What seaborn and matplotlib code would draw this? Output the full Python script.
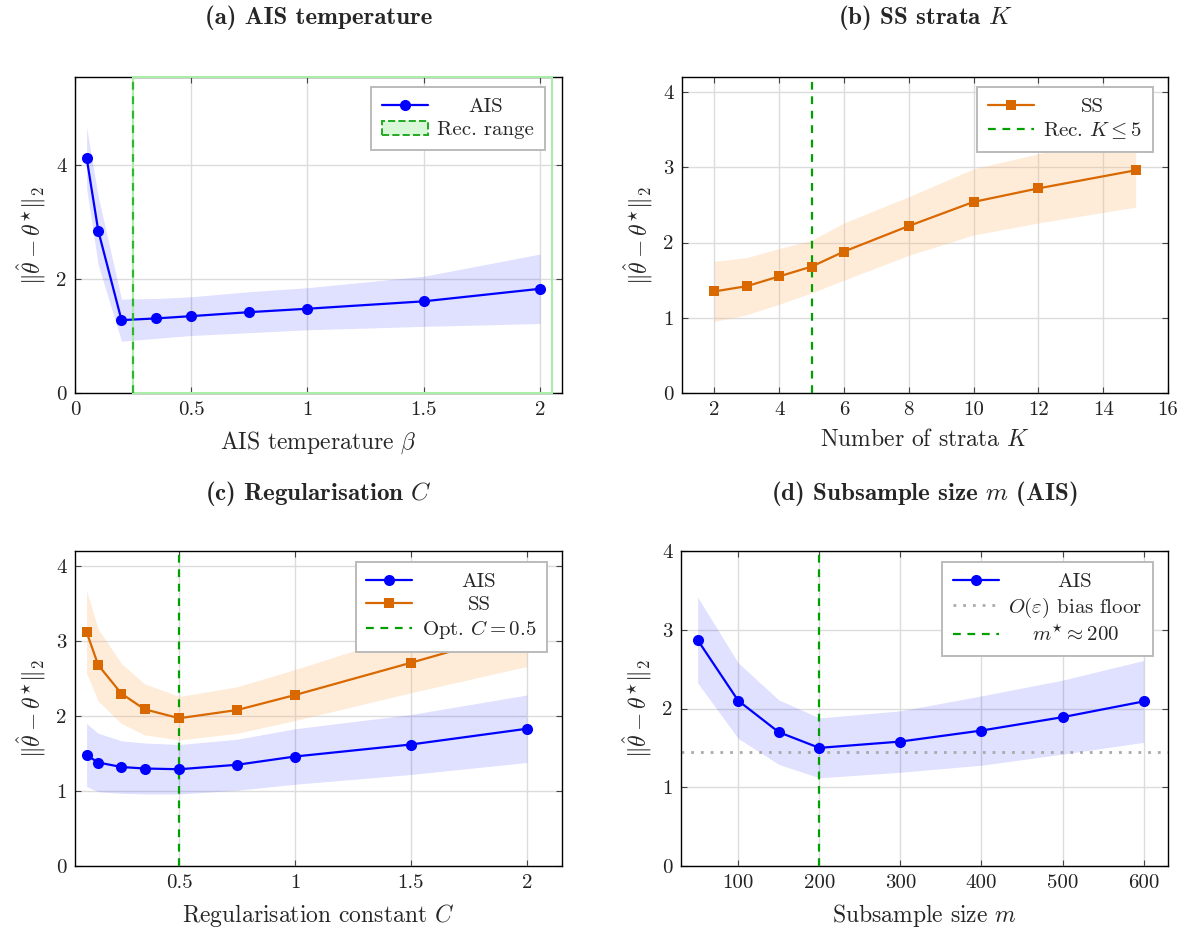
import numpy as np
import pandas as pd
import seaborn as sns
import matplotlib
matplotlib.use("Agg")
import matplotlib.pyplot as plt
from matplotlib.lines import Line2D
from matplotlib.patches import Patch, Rectangle
from matplotlib.ticker import FuncFormatter

# ---------------- data ----------------
beta = [0.05, 0.1, 0.2, 0.35, 0.5, 0.75, 1.0, 1.5, 2.0]
ais_beta = [4.13, 2.85, 1.28, 1.31, 1.35, 1.42, 1.48, 1.61, 1.83]
ais_beta_sd = [0.54, 0.60, 0.37, 0.35, 0.34, 0.36, 0.37, 0.44, 0.61]
rec_range = [0.25, 2.05]

strata = [2, 3, 4, 5, 6, 8, 10, 12, 15]
ss_strata = [1.35, 1.42, 1.55, 1.68, 1.88, 2.22, 2.54, 2.72, 2.96]
ss_strata_sd = [0.40, 0.38, 0.37, 0.35, 0.38, 0.39, 0.44, 0.46, 0.49]
rec_k = 5

reg_c = [0.1, 0.15, 0.25, 0.35, 0.5, 0.75, 1.0, 1.5, 2.0]
ais_c = [1.48, 1.38, 1.32, 1.30, 1.29, 1.35, 1.46, 1.62, 1.83]
ais_c_sd = [0.42, 0.39, 0.35, 0.34, 0.33, 0.34, 0.37, 0.40, 0.45]
ss_c = [3.12, 2.68, 2.30, 2.09, 1.97, 2.08, 2.28, 2.71, 3.15]
ss_c_sd = [0.55, 0.48, 0.40, 0.34, 0.29, 0.31, 0.34, 0.40, 0.49]
opt_c = 0.5

sub_m = [50, 100, 150, 200, 300, 400, 500, 600]
ais_m = [2.87, 2.10, 1.70, 1.50, 1.58, 1.72, 1.89, 2.09]
ais_m_sd = [0.545, 0.48, 0.41, 0.38, 0.39, 0.44, 0.47, 0.52]
bias_floor = 1.45
m_star = 200

titles = [r"(a) AIS temperature", r"(b) SS strata $K$",
          r"(c) Regularisation $C$", r"(d) Subsample size $m$ (AIS)"]
xlabels = [r"AIS temperature $\beta$", r"Number of strata $K$",
           r"Regularisation constant $C$", r"Subsample size $m$"]
ylabel = r"$\Vert\hat{\theta}-\theta^{\star}\Vert_2$"

# ---------------- style ----------------
sns.set_theme(style="whitegrid")
plt.rcParams["font.family"] = ["cmr10", "DejaVu Serif"]
plt.rcParams["mathtext.fontset"] = "cm"
plt.rcParams["axes.formatter.use_mathtext"] = True
plt.rcParams["axes.unicode_minus"] = False

BLUE = "#0000ff"
ORANGE = "#d96800"
GREEN = "#00a000"
LGREEN = "#a8eea8"
GRID = "#dcdcdc"

W, H = 1184, 927
fig = plt.figure(figsize=(W / 100, H / 100), dpi=100)
fig.patch.set_facecolor("white")

def add_ax(l, r, t, b):
    return fig.add_axes([l / W, 1 - b / H, (r - l) / W, (b - t) / H])

axA = add_ax(75, 562, 77, 393)
axB = add_ax(682, 1168, 77, 393)
axC = add_ax(75, 562, 551, 866)
axD = add_ax(681, 1168, 551, 866)

fmt = FuncFormatter(lambda v, p: "%g" % v)

def style(ax, xticks, yticks, xlim, ylim, xlabel):
    ax.set_facecolor("white")
    ax.set_xlim(*xlim)
    ax.set_ylim(*ylim)
    ax.set_xticks(xticks)
    ax.set_yticks(yticks)
    ax.xaxis.set_major_formatter(fmt)
    ax.yaxis.set_major_formatter(fmt)
    ax.grid(True, color=GRID, linewidth=1.0)
    ax.set_axisbelow(True)
    for s in ax.spines.values():
        s.set_color("black")
        s.set_linewidth(1.0)
    ax.tick_params(direction="in", length=4.5, width=0.8, color="#444444",
                   top=True, right=True, labelsize=15, pad=6,
                   bottom=True, left=True, labelcolor="#222222")
    ax.set_xlabel(xlabel, fontsize=17)
    ax.set_ylabel(ylabel, fontsize=17)
    bb = ax.get_position()
    axw = bb.width * W
    axh = bb.height * H
    ax.xaxis.set_label_coords(0.5, -36 / axh)
    ax.yaxis.set_label_coords(-27 / axw, 0.5)

def band(ax, x, y, sd, color, alpha):
    y = np.asarray(y); sd = np.asarray(sd)
    ax.fill_between(x, y - sd, y + sd, color=color, alpha=alpha, linewidth=0, zorder=1)

def line(ax, x, y, color, marker, ms):
    df = pd.DataFrame({"x": x, "y": y})
    sns.lineplot(data=df, x="x", y="y", ax=ax, color=color, marker=marker,
                 markersize=ms, markeredgewidth=0, linewidth=1.6, zorder=4)
    ax.set_xlabel(""); ax.set_ylabel("")

def center_texts(leg):
    fig.canvas.draw()
    r = fig.canvas.get_renderer()
    texts = leg.get_texts()
    ws = [t.get_window_extent(r).width for t in texts]
    mw = max(ws)
    for t, w in zip(texts, ws):
        t.set_position(((mw - w) / 2.0, 0))

def legend(ax, handles, labels, right_px, top_px, axw, axh):
    leg = ax.legend(handles, labels, loc="upper right",
                    bbox_to_anchor=(1 - right_px / axw, 1 - top_px / axh),
                    borderaxespad=0, frameon=True, fancybox=False, framealpha=1,
                    edgecolor="#bbbbbb", fontsize=15, handlelength=2.2,
                    labelspacing=0.2, handletextpad=0.45, borderpad=0.52)
    leg.get_frame().set_linewidth(1.4)
    leg.set_zorder(10)
    return leg

ais_h = Line2D([], [], color=BLUE, marker="o", markersize=8, markeredgewidth=0, linewidth=1.6)
ss_h = Line2D([], [], color=ORANGE, marker="s", markersize=7.5, markeredgewidth=0, linewidth=1.6)
vline_h = Line2D([], [], color=GREEN, linestyle=(0, (3.5, 3)), linewidth=1.6)

# ---------- (a) ----------
ax = axA
band(ax, beta, ais_beta, ais_beta_sd, BLUE, 0.12)
line(ax, beta, ais_beta, BLUE, "o", 8)
ax.add_patch(Rectangle((rec_range[0], 0), rec_range[1] - rec_range[0], 5.55,
                       facecolor="none", edgecolor=LGREEN, linewidth=1.5,
                       zorder=6, clip_on=False))
ax.axvline(rec_range[0], color="#2db82d", linestyle=(0, (3.5, 3)), linewidth=1.6, zorder=7)
style(ax, [0, 0.5, 1, 1.5, 2], [0, 2, 4], (0, 2.095), (0, 5.55), xlabels[0])
rec_h = Patch(facecolor="#d8f8d8", edgecolor="#22aa22", linestyle="--", linewidth=1.4)
legA = legend(ax, [ais_h, rec_h], ["AIS", "Rec. range"], 17, 10, 487, 316)

# ---------- (b) ----------
ax = axB
band(ax, strata, ss_strata, ss_strata_sd, "#fdb46a", 0.25)
ax.axvline(rec_k, color=GREEN, linestyle=(0, (3.5, 3)), linewidth=1.6, zorder=3)
line(ax, strata, ss_strata, ORANGE, "s", 7.5)
style(ax, [2, 4, 6, 8, 10, 12, 14, 16], [0, 1, 2, 3, 4], (1, 16), (0, 4.2), xlabels[1])
legB = legend(ax, [ss_h, vline_h], ["SS", r"Rec. $K \leq 5$"], 15, 10, 486, 316)

# ---------- (c) ----------
ax = axC
band(ax, reg_c, ss_c, ss_c_sd, "#fdb46a", 0.25)
band(ax, reg_c, ais_c, ais_c_sd, BLUE, 0.12)
ax.axvline(opt_c, color=GREEN, linestyle=(0, (3.5, 3)), linewidth=1.6, zorder=3)
line(ax, reg_c, ais_c, BLUE, "o", 8)
line(ax, reg_c, ss_c, ORANGE, "s", 7.5)
style(ax, [0.5, 1, 1.5, 2], [0, 1, 2, 3, 4], (0.05, 2.152), (0, 4.2), xlabels[2])
legC = legend(ax, [ais_h, ss_h, vline_h], ["AIS", "SS", r"Opt. $C = 0.5$"], 15, 11, 487, 315)

# ---------- (d) ----------
ax = axD
band(ax, sub_m, ais_m, ais_m_sd, BLUE, 0.12)
ax.axhline(bias_floor, color="#aaaaaa", linestyle=(0, (1, 2.5)), linewidth=2.0, zorder=2)
ax.axvline(m_star, color=GREEN, linestyle=(0, (3.5, 3)), linewidth=1.6, zorder=3)
line(ax, sub_m, ais_m, BLUE, "o", 8)
style(ax, [100, 200, 300, 400, 500, 600], [0, 1, 2, 3, 4], (29.5, 630), (0, 4), xlabels[3])
floor_h = Line2D([], [], color="#aaaaaa", linestyle=(0, (1, 2.5)), linewidth=2.0)
legD = legend(ax, [ais_h, floor_h, vline_h],
              ["AIS", r"$O(\varepsilon)$ bias floor", r"$m^{\star} \approx 200$"], 15, 11, 487, 315)

# titles
for ax, t, yc in [(axA, titles[0], 18), (axB, titles[1], 18), (axC, titles[2], 493), (axD, titles[3], 493)]:
    bb = ax.get_position()
    fig.text((bb.x0 + bb.x1) / 2, 1 - yc / H, t, ha="center", va="center",
             fontsize=18, fontfamily=["cmb10", "DejaVu Serif"], fontweight="bold")

for leg in (legA, legB, legC, legD):
    center_texts(leg)

fig.savefig("out.png", dpi=100, facecolor="white")
